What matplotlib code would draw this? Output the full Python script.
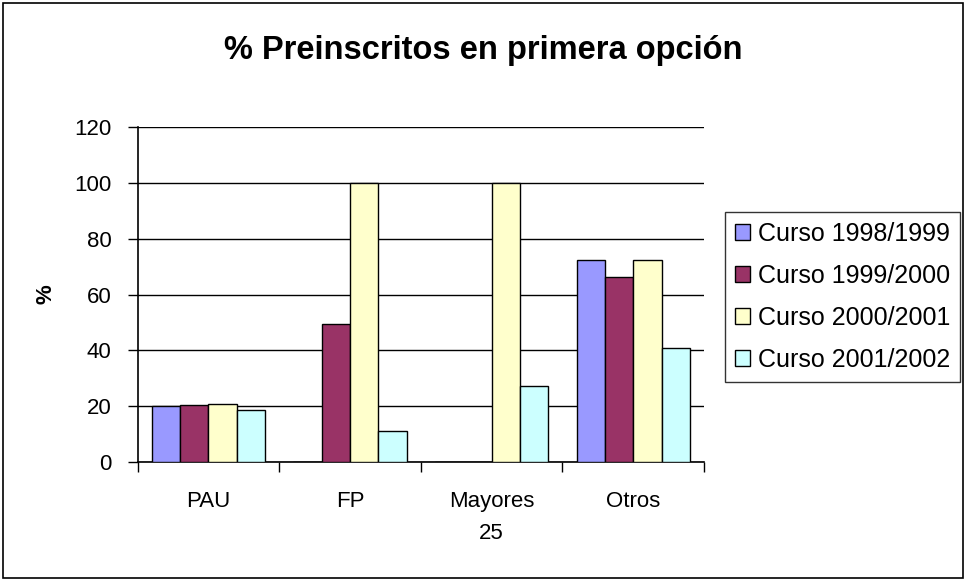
import matplotlib
matplotlib.use("Agg")
import matplotlib.pyplot as plt
from matplotlib.patches import Rectangle
import numpy as np

plt.rcParams['font.family'] = ['Liberation Sans', 'DejaVu Sans']

categories = ["PAU", "FP", "Mayores\n25", "Otros"]
series_names = ["Curso 1998/1999", "Curso 1999/2000", "Curso 2000/2001", "Curso 2001/2002"]
curso_1998 = [20.0, 0, 0, 72.4]
curso_1999 = [20.5, 49.6, 0, 66.2]
curso_2000 = [21.0, 100.0, 100.0, 72.4]
curso_2001 = [18.8, 11.3, 27.4, 40.9]
colors = ["#9999FF", "#993366", "#FFFFCC", "#CCFFFF"]

fig = plt.figure(figsize=(9.67, 5.81), dpi=100)
ax = fig.add_axes([137.7/967, 1-462.3/581, (704-137.7)/967, (462.3-126.7)/581])

x = np.arange(len(categories))
w = 0.2
all_series = [curso_1998, curso_1999, curso_2000, curso_2001]
for i, (vals, name, c) in enumerate(zip(all_series, series_names, colors)):
    ax.bar(x - 0.3 + i*w, vals, width=w, color=c, edgecolor="black", linewidth=1.0,
           label=name, zorder=3)

ax.set_xlim(-0.5, 3.5)
ax.set_ylim(0, 120)
ax.set_yticks(range(0, 121, 20))
ax.yaxis.grid(True, color="black", linewidth=1.0, zorder=0)
ax.set_xticks(x)
ax.set_xticklabels(categories, fontsize=16, linespacing=1.65)
ax.set_xticks(np.arange(-0.5, 4, 1), minor=True)
ax.tick_params(axis='x', which='major', length=0, pad=21)
ax.tick_params(axis='x', which='minor', length=7, width=1, direction='out')
ax.tick_params(axis='y', labelsize=16, length=7, width=1, direction='out', pad=12)
for s in ["top", "right"]:
    ax.spines[s].set_visible(False)
ax.spines["left"].set_linewidth(1.2)
ax.spines["bottom"].set_linewidth(1.2)
ax.set_ylabel("%", fontsize=16, fontweight="bold")
ax.yaxis.set_label_coords((56-137.7)/(704-137.7), 0.5)

fig.text(0.5, 1-50/581, "% Preinscritos en primera opción", ha="center", va="center",
         fontsize=23.5, fontweight="bold")

leg = fig.legend(loc="upper left", bbox_to_anchor=(725/967, 1-212/581), fontsize=18,
                 frameon=True, fancybox=False, edgecolor="black", handlelength=0.6,
                 handleheight=0.6, handletextpad=0.3, labelspacing=0.72, borderpad=0.4,
                 borderaxespad=0)
leg.get_frame().set_linewidth(1.0)

fig.patches.append(Rectangle((3/967, 3/581), 960/967, 575/581, transform=fig.transFigure,
                             fill=False, edgecolor="black", linewidth=1.2))

fig.savefig("out.png", dpi=100)
